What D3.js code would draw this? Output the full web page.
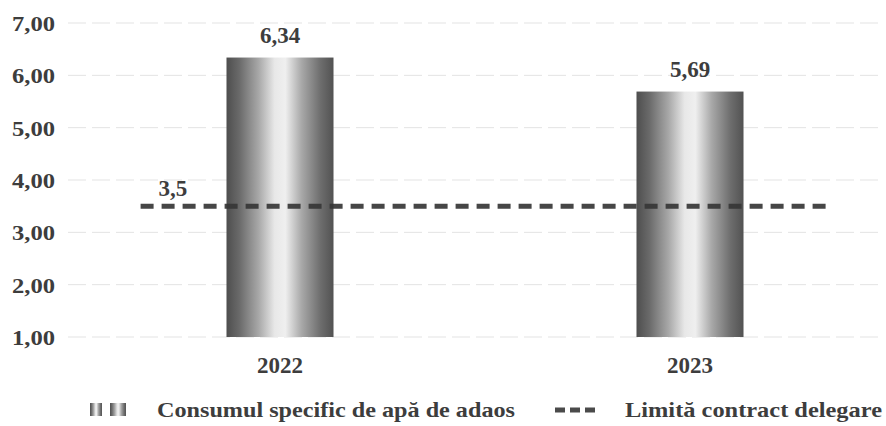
<!DOCTYPE html>
<html>
<head>
<meta charset="utf-8">
<script src="https://cdn.jsdelivr.net/npm/d3@7"></script>
<style>
  body { margin: 0; background: #fff; }
  text { font-family: "Liberation Serif", "Times New Roman", serif; font-weight: bold; fill: #3d3d3d; }
</style>
</head>
<body>
<div id="chart"></div>
<script>
// data
var years = ["2022", "2023"];
var consum = [6.34, 5.69];
var limita = [3.5, 3.5];
var yTicks = [1, 2, 3, 4, 5, 6, 7];
var legendLabels = ["Consumul specific de apă de adaos", "Limită contract delegare"];

var width = 886, height = 426;
var fmt = function(v) { return d3.format(".2f")(v).replace(".", ","); };

var svg = d3.select("#chart").append("svg")
    .attr("width", width)
    .attr("height", height);

var x = d3.scaleBand()
    .domain(years)
    .range([75, 895])
    .paddingInner(0.739)
    .paddingOuter(0.3695);
var y = d3.scaleLinear()
    .domain([1, 7])
    .range([337, 23]);

// bar gradient
var defs = svg.append("defs");
var grad = defs.append("linearGradient").attr("id", "barGrad")
    .attr("x1", "0%").attr("x2", "100%").attr("y1", "0%").attr("y2", "0%");
[["0%", "#4e4e4e"], ["12%", "#6a6a6a"], ["30%", "#a8a8a8"], ["45%", "#e8e8e8"],
 ["55%", "#efefef"], ["70%", "#a9a9a9"], ["88%", "#6d6d6d"], ["100%", "#525252"]]
  .forEach(function(s) { grad.append("stop").attr("offset", s[0]).attr("stop-color", s[1]); });

// grid lines
svg.append("g")
    .selectAll("line")
    .data(yTicks)
    .enter().append("line")
    .attr("x1", 68).attr("x2", 884)
    .attr("y1", function(d) { return y(d); })
    .attr("y2", function(d) { return y(d); })
    .attr("stroke", "#e3e3e3")
    .attr("stroke-width", 1)
    .attr("stroke-dasharray", "18,6");

// y axis labels
var yAxis = svg.append("g")
    .attr("transform", "translate(55,0)")
    .call(d3.axisLeft(y).tickValues(yTicks).tickFormat(fmt).tickSize(0).tickPadding(0));
yAxis.select(".domain").remove();
yAxis.selectAll("text")
    .style("font-size", "21px")
    .attr("dy", "0.35em")
    .attr("textLength", 43)
    .attr("lengthAdjust", "spacingAndGlyphs");

// bars
svg.append("g")
    .selectAll("rect")
    .data(consum)
    .enter().append("rect")
    .attr("x", function(d, i) { return x(years[i]); })
    .attr("width", x.bandwidth())
    .attr("y", function(d) { return y(d); })
    .attr("height", function(d) { return y(1) - y(d); })
    .attr("fill", "url(#barGrad)");

// limit line
var ext = x.step() * 0.34;
var lineData = limita.map(function(v, i) {
  return [x(years[i]) + x.bandwidth() / 2 + (i === 0 ? -ext : ext), y(v)];
});
svg.append("path")
    .datum(lineData)
    .attr("d", d3.line())
    .attr("fill", "none")
    .attr("stroke", "#363636")
    .attr("stroke-width", 5)
    .attr("stroke-dasharray", "13,8")
    .attr("opacity", 0.92);

// value labels
svg.append("g")
    .selectAll("text")
    .data(consum)
    .enter().append("text")
    .attr("x", function(d, i) { return x(years[i]) + x.bandwidth() / 2; })
    .attr("y", function(d) { return y(d) - 15; })
    .attr("text-anchor", "middle")
    .style("font-size", "23px")
    .text(fmt);

svg.append("text")
    .attr("x", lineData[0][0] + 18)
    .attr("y", y(limita[0]) - 10)
    .style("font-size", "23px")
    .text(String(limita[0]).replace(".", ","));

// x axis labels
var xAxis = svg.append("g")
    .attr("transform", "translate(0," + y(1) + ")")
    .call(d3.axisBottom(x).tickSize(0).tickPadding(0));
xAxis.select(".domain").remove();
xAxis.selectAll("text")
    .attr("dy", "36px")
    .style("font-size", "23px");

// legend
var leg = svg.append("g").attr("transform", "translate(0,410)");
leg.append("rect")
    .attr("x", 90).attr("y", -7).attr("width", 12).attr("height", 13)
    .attr("fill", "url(#barGrad)");
leg.append("rect")
    .attr("x", 110).attr("y", -7).attr("width", 16).attr("height", 13)
    .attr("fill", "url(#barGrad)");
leg.append("text")
    .attr("x", 157).attr("y", 0).attr("dy", "0.35em")
    .style("font-size", "21px")
    .attr("textLength", 358)
    .attr("lengthAdjust", "spacingAndGlyphs")
    .text(legendLabels[0]);
leg.append("line")
    .attr("x1", 555).attr("x2", 597).attr("y1", 0).attr("y2", 0)
    .attr("stroke", "#4a4a4a")
    .attr("stroke-width", 5)
    .attr("stroke-dasharray", "10,5");
leg.append("text")
    .attr("x", 625).attr("y", 0).attr("dy", "0.35em")
    .style("font-size", "21px")
    .attr("textLength", 257)
    .attr("lengthAdjust", "spacingAndGlyphs")
    .text(legendLabels[1]);
</script>
</body>
</html>
